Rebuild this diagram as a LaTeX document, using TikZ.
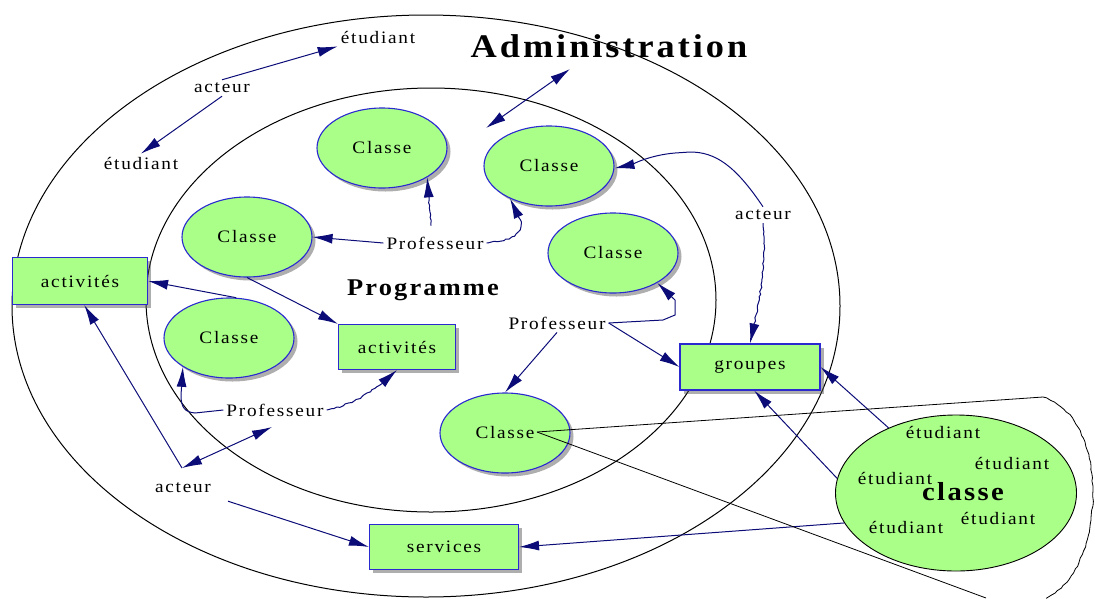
\documentclass[tikz,border=0pt]{standalone}
\usepackage{fontspec}
\setmainfont{Liberation Serif}
\newfontfamily\lsf{Liberation Serif}[LetterSpace=10,FakeStretch=1.1]
\newfontfamily\lsb{Liberation Serif}[LetterSpace=9,FakeStretch=1.1]
\usetikzlibrary{shapes.geometric,arrows.meta,shadows,decorations.pathmorphing}
\definecolor{gfill}{HTML}{AAFF88}
\definecolor{bbord}{HTML}{2A2AD0}
\definecolor{navy}{HTML}{0C0C78}
\begin{document}
\begin{tikzpicture}[x=1pt,y=-1pt,
  txt/.style={font=\lsf\fontsize{17.5}{20}\selectfont, inner sep=3pt},
  shad/.style={drop shadow={shadow xshift=3.5pt, shadow yshift=-3.5pt, fill=black!70, opacity=0.45}},
  cls/.style={ellipse, draw=bbord, line width=1.1pt, fill=gfill, inner sep=0pt,
     minimum width=130pt, minimum height=80pt, shad, txt},
  boxn/.style={rectangle, draw=bbord, line width=1.1pt, fill=gfill, inner sep=0pt, shad, txt},
  ring/.style={draw=black, line width=1pt},
  arr/.style={draw=navy, line width=1pt, -{Latex[length=20pt,width=10pt]}},
  darr/.style={draw=navy, line width=1pt, {Latex[length=20pt,width=10pt]}-{Latex[length=20pt,width=10pt]}},
  jag/.style={decorate, decoration={random steps, segment length=3pt, amplitude=0.8pt, pre length=2pt, post length=16pt}},
  wob/.style={decorate, decoration={random steps, segment length=4pt, amplitude=0.8pt}},
]
\useasboundingbox (0,0) rectangle (1095,598);
% rings
\draw[ring] (426,306) ellipse [x radius=414, y radius=291];
\draw[ring] (431,300) ellipse [x radius=285, y radius=212];

% class ellipses
\node[cls] (c1) at (382,148) {Classe};
\node[cls] (c2) at (549,166) {Classe};
\node[cls] (c3) at (247,237) {Classe};
\node[cls] (c4) at (613,253) {Classe};
\node[cls] (c5) at (229,338) {Classe};
\node[cls] (c6) at (505,433) {Classe};

% boxes
\node[boxn, minimum width=135pt, minimum height=47pt] (act1) at (80,281) {activités};
\node[boxn, minimum width=117pt, minimum height=45pt] (act2) at (397,347) {activités};
\node[boxn, minimum width=140pt, minimum height=46pt] (grp) at (750,367) {groupes};
\node[boxn, minimum width=149pt, minimum height=45pt] (srv) at (444,547) {services};

% big classe ellipse
\node[ellipse, draw=black, line width=0.9pt, fill=gfill, minimum width=241pt, minimum height=156pt] (bc) at (956,493) {};
\node[font=\lsb\bfseries\fontsize{26}{28}\selectfont] (bct) at (963,492) {classe};
\node[txt] (be1) at (943,432) {étudiant};
\node[txt] (be2) at (1012,463) {étudiant};
\node[txt] (be3) at (895,478) {étudiant};
\node[txt] (be4) at (998,518) {étudiant};
\node[txt] (be5) at (906,527) {étudiant};

% titles
\node[font=\lsb\bfseries\fontsize{33}{36}\selectfont] (adm) at (609,46) {Administration};
\node[font=\lsb\bfseries\fontsize{24}{28}\selectfont] (prog) at (423,290) {Programme};

% labels
\node[txt] (e1) at (378,37) {étudiant};
\node[txt] (a1) at (222,88) {acteur};
\node[txt] (e2) at (141,163) {étudiant};
\node[txt] (p1) at (435,243) {Professeur};
\node[txt] (a2) at (763,215) {acteur};
\node[txt] (p2) at (557,323) {Professeur};
\node[txt] (p3) at (275,410) {Professeur};
\node[txt] (a3) at (183,488) {acteur};

% free ends
\coordinate (admA) at (570,69);
\coordinate (admB) at (486,128);
\coordinate (v) at (182,468);
\coordinate (vB) at (272,427);
\coordinate (k) at (537,432);
\coordinate (k1) at (1043,397);
\coordinate (k2) at (1046,598);
\coordinate (k3) at (986,598);

% connectors
\draw[arr] (a1.north) -- (e1.south west);
\draw[arr] (a1.south) -- (e2.north);
\draw[darr] (admA) -- (admB);

\draw[arr] (p1.west) -- (c3.east);
\draw[arr, jag] ([xshift=-4pt,yshift=8pt]p1.north) -- (c1.-33);
\draw[arr, jag] (p1.east) .. controls (512,240) and (522,235) .. (521,222) -- (c2.-140);

\draw[arr] (a2.north) .. controls (735,165) and (715,152) .. (690,152) -- (675,153) .. controls (650,155) and (630,165) .. (c2.-2);
\draw[arr, jag] (a2.south) .. controls (766,270) and (760,300) .. (grp.north);

\draw[arr] (p2.east) -- (663,320) -- (675,315) -- (675,300) -- (c4.-34);
\draw[arr] (p2.east) -- (grp.west);
\draw[arr] (p2.south) -- (c6.north);

\draw[arr] (c3.south) -- (act2.north west);
\draw[arr] (c5.80) -- (act1.east);

\draw[arr] (p3.west) -- (195,413) .. controls (185,412) and (181,408) .. (181,395) -- (c5.-148);
\draw[arr, jag] (p3.east) .. controls (350,405) and (370,395) .. (act2.south);

\draw[arr] (v) -- (act1.-80);
\draw[darr] (v) -- (vB);
\draw[arr] ([xshift=14pt,yshift=-5pt]a3.south east) -- (srv.west);

\draw[arr] (bc.136) -- (grp.east);
\draw[arr] (bc.173) -- (grp.-80);
\draw[arr] (bc.-165) -- (srv.east);

% black outline
\draw[line width=0.8pt] (k) -- (k1);
\draw[line width=0.8pt, wob] (k1) .. controls (1085,410) and (1098,470) .. (1091,520) .. controls (1086,560) and (1066,590) .. (k2);
\draw[line width=0.8pt] (k) -- (k3);
\end{tikzpicture}
\end{document}
